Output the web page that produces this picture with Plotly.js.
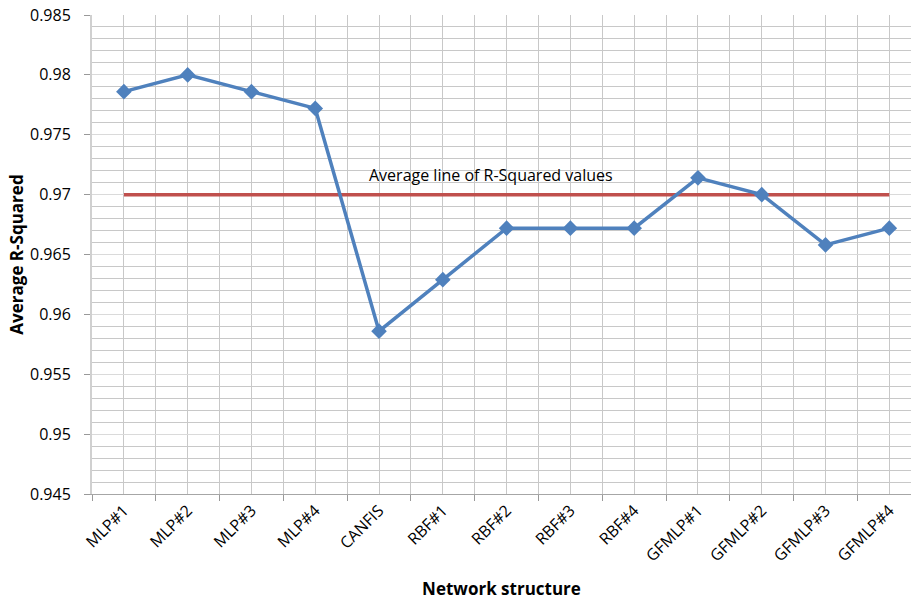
<!DOCTYPE html>
<html>
<head>
<meta charset="utf-8">
<script src="https://cdn.plot.ly/plotly-3.0.1.min.js"></script>
<style>html,body{margin:0;padding:0;background:#fff;}#chart{width:911px;height:600px;}</style>
</head>
<body>
<div id="chart"></div>
<script>
const categories = ["MLP#1","MLP#2","MLP#3","MLP#4","CANFIS","RBF#1","RBF#2","RBF#3","RBF#4","GFMLP#1","GFMLP#2","GFMLP#3","GFMLP#4"];
const rSquared = [0.9786,0.9800,0.9786,0.9772,0.9586,0.9629,0.9672,0.9672,0.9672,0.9714,0.9700,0.9658,0.9672];
const averageValue = 0.970;
const averageLabel = "Average line of R-Squared values";

const idx = categories.map((c,i)=>i);
const boundaries = [];
for (let i = 0; i <= categories.length; i++) boundaries.push(i - 0.5);

const font = "Open Sans, Liberation Sans, sans-serif";

const traces = [
  {
    x: idx, y: categories.map(()=>averageValue),
    type: "scatter", mode: "lines",
    line: {color: "#C0504D", width: 3.5},
    hoverinfo: "skip", showlegend: false
  },
  {
    x: idx, y: rSquared,
    type: "scatter", mode: "lines+markers",
    line: {color: "#4F81BD", width: 3.5},
    marker: {symbol: "diamond", size: 12, color: "#4F81BD"},
    showlegend: false
  }
];

const layout = {
  width: 911, height: 600,
  margin: {l: 92, r: 0, t: 15, b: 106},
  paper_bgcolor: "#fff", plot_bgcolor: "#fff",
  font: {family: font, size: 16, color: "#000"},
  xaxis: {
    type: "linear",
    range: [-0.5, 12.34],
    tickmode: "array", tickvals: idx, ticktext: categories,
    tickangle: -45, ticks: "", ticklen: 0,
    showgrid: true, gridcolor: "#c8c8c8", gridwidth: 1,
    minor: {tickmode: "array", tickvals: boundaries, ticks: "outside", ticklen: 6, tickcolor: "#999", showgrid: true, gridcolor: "#c8c8c8", gridwidth: 1},
    showline: true, linecolor: "#a6a6a6", linewidth: 1,
    zeroline: false,
    tickfont: {family: font, size: 16},
    title: {text: "<b>Network structure</b>", font: {family: font, size: 17}, standoff: 18},
    fixedrange: true
  },
  yaxis: {
    range: [0.945, 0.985],
    tickmode: "linear", tick0: 0.945, dtick: 0.005,
    ticks: "outside", ticklen: 6, tickcolor: "#999",
    ticklabelstandoff: 10,
    showgrid: true, gridcolor: "#dadada", gridwidth: 1,
    minor: {dtick: 0.001, tick0: 0.945, showgrid: true, gridcolor: "#c8c8c8", gridwidth: 1, ticks: ""},
    showline: true, linecolor: "#d0d0d0", linewidth: 2,
    zeroline: false,
    tickfont: {family: font, size: 16},
    title: {text: "<b>Average R-Squared</b>", font: {family: font, size: 17}, standoff: 2},
    fixedrange: true
  },
  annotations: [{
    x: 5.76, y: 0.97167, xref: "x", yref: "y",
    text: averageLabel, showarrow: false,
    font: {family: font, size: 16, color: "#000"}
  }]
};

Plotly.newPlot("chart", traces, layout, {displayModeBar: false, staticPlot: true});
</script>
</body>
</html>
